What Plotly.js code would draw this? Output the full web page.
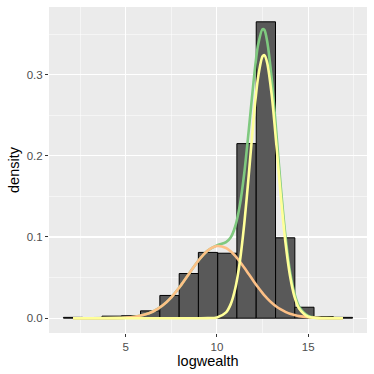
<!DOCTYPE html>
<html>
<head>
<meta charset="utf-8">
<script src="https://cdn.plot.ly/plotly-3.0.1.min.js"></script>
<style>
  html, body { margin: 0; padding: 0; background: #fff; }
  #chart { width: 374px; height: 374px; }
</style>
</head>
<body>
<div id="chart"></div>
<script>
// histogram of logwealth (15 bins, density scale)
var binCenters = [2.12, 3.18, 4.23, 5.29, 6.34, 7.40, 8.46, 9.51, 10.57, 11.62, 12.68, 13.74, 14.79, 15.85, 16.90];
var binDensity = [0.001, 0, 0.0025, 0.003, 0.009, 0.028, 0.055, 0.081, 0.080, 0.215, 0.365, 0.099, 0.0135, 0.002, 0.001];
var binWidth = 1.0557;

// fitted mixture curves
var curveX = [2.12, 3, 4, 5, 5.5, 6, 6.5, 7, 7.5, 8, 8.5, 9, 9.5, 10, 10.5, 10.75, 11, 11.25, 11.5, 11.75,
              12, 12.25, 12.5, 12.6, 12.75, 13, 13.25, 13.5, 13.75, 14, 14.25, 14.5, 15, 15.5, 16, 16.9];
var mixTotal = [0, 0, 0.0001, 0.0007, 0.0018, 0.0041, 0.0082, 0.0152, 0.0257, 0.0396, 0.0556, 0.0713, 0.0834, 0.0897,
                0.0936, 0.0993, 0.1129, 0.1386, 0.1791, 0.233, 0.290, 0.336, 0.356, 0.355, 0.341, 0.295, 0.2294,
                0.1607, 0.1017, 0.058, 0.0301, 0.0143, 0.0028, 0.0005, 0.0001, 0];
var compLow = [0, 0, 0.0001, 0.0007, 0.0018, 0.0041, 0.0082, 0.0152, 0.0257, 0.0396, 0.0556, 0.0713, 0.0833, 0.0888,
               0.0864, 0.0823, 0.0767, 0.0698, 0.0621, 0.0540, 0.0459, 0.0381, 0.0309, 0.0282, 0.0245, 0.0190, 0.0144,
               0.0107, 0.0077, 0.0054, 0.0038, 0.0025, 0.0011, 0.0004, 0.0001, 0];
var compHigh = [0, 0, 0, 0, 0, 0, 0, 0, 0, 0, 0, 0, 0.0001, 0.0009, 0.0072, 0.017, 0.0362, 0.0688, 0.117, 0.178,
                0.243, 0.296, 0.3226, 0.324, 0.3148, 0.275, 0.215, 0.150, 0.094, 0.0526, 0.0263, 0.0118, 0.0017, 0.0001, 0, 0];

var xTicks = [5, 10, 15];
var yTicks = [0, 0.1, 0.2, 0.3];

var hist = {
  type: 'bar', x: binCenters, y: binDensity, width: binWidth,
  marker: {color: '#595959', line: {color: '#000000', width: 1}},
  hoverinfo: 'skip'
};
function curve(y, col){
  return {type: 'scatter', mode: 'lines', x: curveX, y: y,
          line: {color: col, width: 2.6, shape: 'spline', smoothing: 0.8}, hoverinfo: 'skip'};
}
var data = [hist, curve(mixTotal, '#7FC97F'), curve(compLow, '#FDC086'), curve(compHigh, '#FFFF99')];

var axisFont = {family: 'Liberation Sans, Arial, sans-serif', size: 11.5, color: '#4D4D4D'};
var layout = {
  width: 374, height: 374,
  margin: {l: 49, r: 7, t: 7, b: 41},
  paper_bgcolor: '#FFFFFF', plot_bgcolor: '#EBEBEB',
  showlegend: false, bargap: 0,
  font: {family: 'Liberation Sans, Arial, sans-serif'},
  xaxis: {
    range: [0.80, 18.22], tickvals: xTicks, ticktext: xTicks.map(String),
    ticks: 'outside', ticklen: 3, tickwidth: 1, tickcolor: '#333333', tickfont: axisFont,
    showgrid: true, gridcolor: '#FFFFFF', gridwidth: 1.1, zeroline: false, showline: false,
    minor: {tickvals: [2.5, 7.5, 12.5, 17.5], showgrid: true, gridcolor: '#FFFFFF', gridwidth: 0.5, ticks: ''},
    title: {text: 'logwealth', font: {size: 14.5, color: '#000000'}, standoff: 2}
  },
  yaxis: {
    range: [-0.01825, 0.38325], tickvals: yTicks, ticktext: yTicks.map(function(v){ return v.toFixed(1); }),
    ticks: 'outside', ticklen: 3, tickwidth: 1, tickcolor: '#333333', tickfont: axisFont,
    showgrid: true, gridcolor: '#FFFFFF', gridwidth: 1.1, zeroline: false, showline: false,
    minor: {tickvals: [0.05, 0.15, 0.25, 0.35], showgrid: true, gridcolor: '#FFFFFF', gridwidth: 0.5, ticks: ''},
    title: {text: 'density', font: {size: 14.5, color: '#000000'}, standoff: 3}
  }
};

Plotly.newPlot('chart', data, layout, {staticPlot: true, displayModeBar: false});
</script>
</body>
</html>
